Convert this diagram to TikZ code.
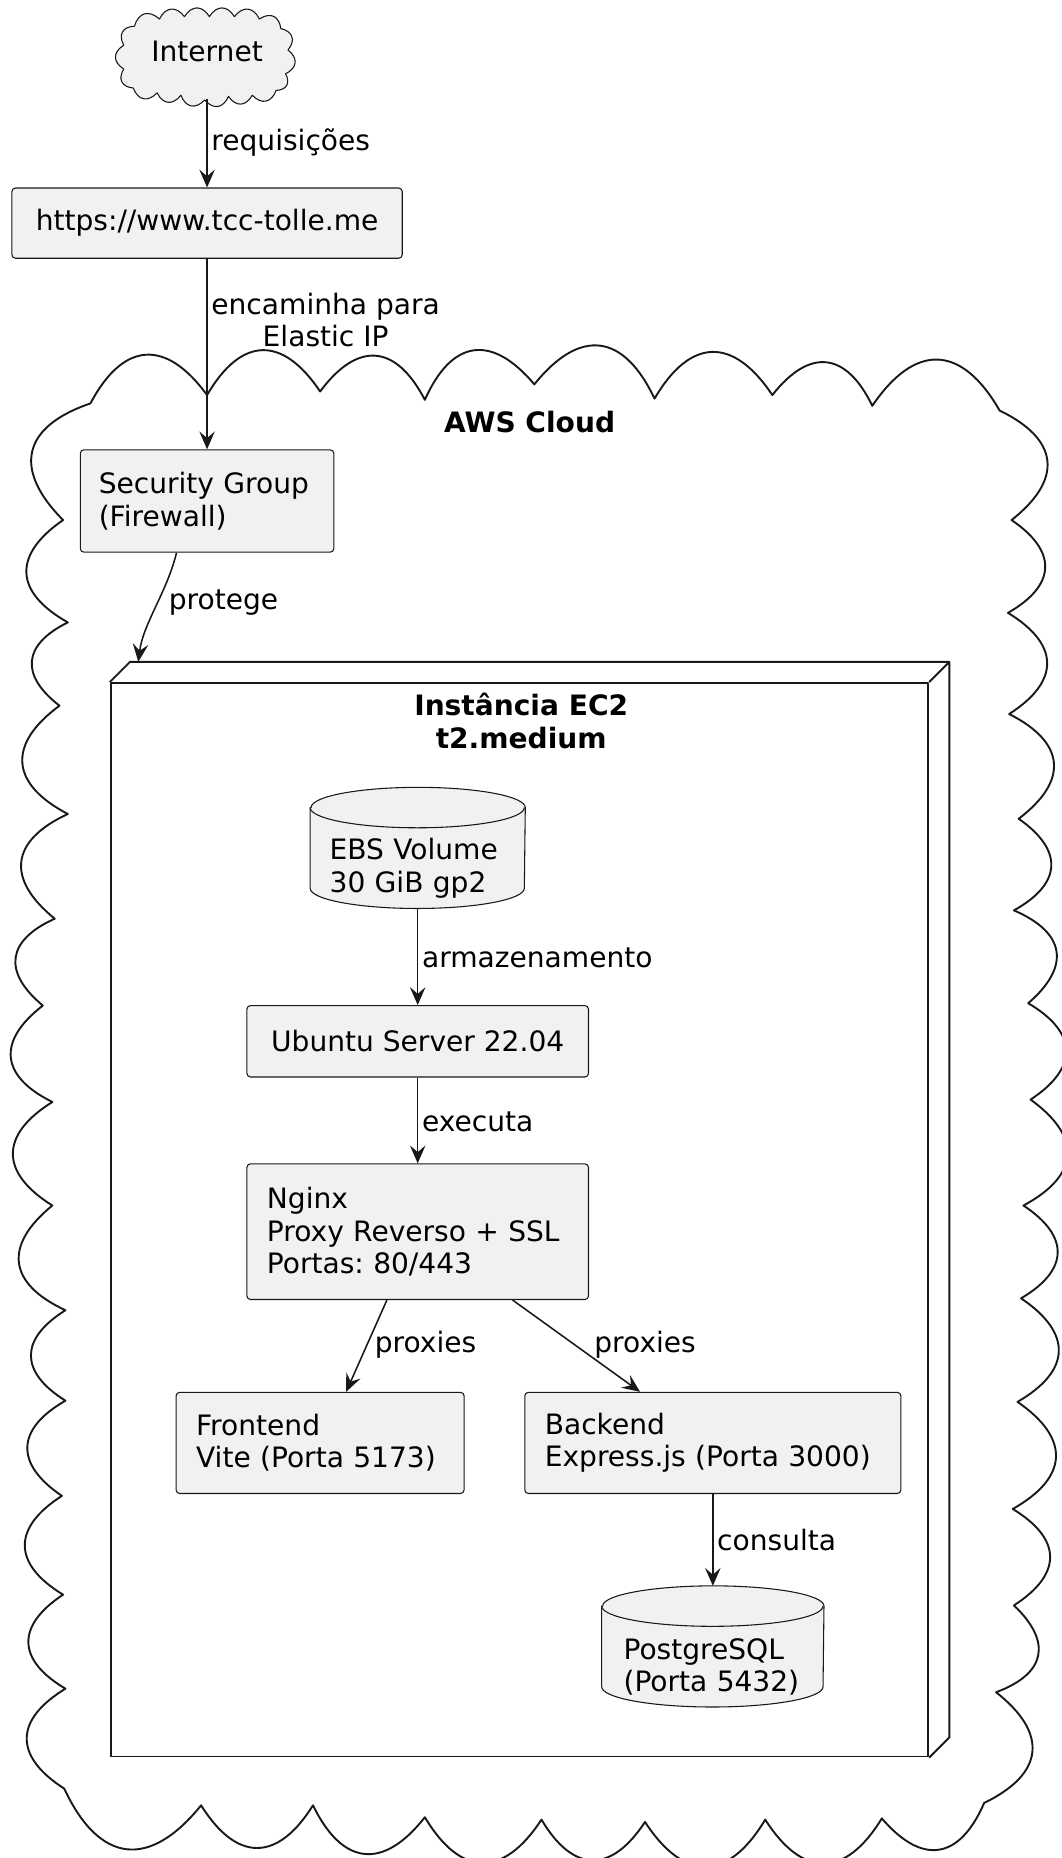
\documentclass[tikz,border=0pt]{standalone}
\usepackage{fontspec}
\setmainfont{DejaVu Sans}
\frenchspacing
\usetikzlibrary{arrows.meta,calc,backgrounds}
\definecolor{boxfill}{HTML}{F1F1F1}
\definecolor{ink}{HTML}{181818}
\newcommand{\diagfont}{\fontsize{11.8}{13.6}\selectfont}
\tikzset{
  box/.style={draw=ink, line width=0.45pt, fill=boxfill, rounded corners=1.5pt, inner xsep=8.4pt, inner ysep=0pt},
  arr/.style={draw=ink, line width=0.65pt, -{Stealth[length=7.5pt, width=6.5pt, inset=2.8pt]}},
  lbl/.style={inner sep=1.5pt},
  heavy/.style={draw=ink, line width=0.8pt},
  thin/.style={draw=ink, line width=0.45pt},
  title/.style={font=\diagfont\bfseries, align=center},
  bump/.style={to path={.. controls ($(\tikztostart)!#1!58:(\tikztotarget)$) and ($(\tikztotarget)!#1!-58:(\tikztostart)$) .. (\tikztotarget)}},
  bump/.default=0.6
}
\begin{document}
\begin{tikzpicture}[x=0.5pt, y=-0.5pt, font=\diagfont, line join=round]
\useasboundingbox (0,0) rectangle (891.6,1561.3);

% Internet
\draw[thin, fill=boxfill] (113,22) \foreach \x/\y in {134/16, 155/14, 176/14, 197/14, 218/16, 236/24, 242/42, 240/62, 232/76, 212/80, 192/81, 172/84, 152/80, 132/78, 112/74, 104/58, 104/38, 113/22} { to[bump=0.55] (\x,\y) } -- cycle;
\node[minimum width=75pt, minimum height=40pt, inner sep=0pt] (internet) at (174,43) {Internet};
\node[box, minimum width=164pt, minimum height=29.5pt] (site) at (174,187.5) {https://www.tcc-tolle.me};

% AWS Cloud
\draw[heavy] (76,339) \foreach \x/\y in {174/332, 269/329, 357/336, 449/323, 550/335, 649/332, 733/341, 840/345, 850/437, 847/515, 848/600, 856/688, 852/765, 864/843, 866/924, 860/1013, 858/1091, 855/1178, 851/1268, 852/1349, 837/1422, 827/1515, 741/1528, 643/1529, 542/1531, 455/1529, 357/1527, 263/1517, 169/1517, 54/1503, 55/1419, 53/1340, 52/1257, 55/1177, 55/1101, 44/1013, 44/926, 36/845, 46/772, 57/684, 50/593, 57/523, 53/437, 76/339} { to[bump] (\x,\y) };
\node[title] (aws) at (445,354.5) {AWS Cloud};
\node[box, align=left, text width=91pt, inner xsep=7.75pt, minimum height=43pt] (sg) at (174,421) {Security Group\\(Firewall)};

% EC2
\node[heavy, minimum width=343.5pt, minimum height=451pt] (ec2) at (436.5,1025) {};
\draw[heavy] (ec2.north west) -- ++(17,-17) -- ($(ec2.north east)+(17,-17)$) -- ($(ec2.south east)+(17,-17)$) -- (ec2.south east) (ec2.north east) -- ++(17,-17);
\node[title] (ec2name) at (438,605.75) {Instância EC2\\t2.medium};

\node[align=left, text width=74pt, inner xsep=8pt, inner ysep=0pt, minimum height=33.5pt] (ebs) at (351,729.5) {EBS Volume\\30 GiB gp2};
\node[box, minimum width=143.5pt, minimum height=30pt] (ubuntu) at (351,875) {Ubuntu Server 22.04};
\node[box, align=left, text width=126.7pt, minimum height=57pt] (nginx) at (351,1035) {Nginx\\Proxy Reverso + SSL\\Portas: 80/443};
\node[box, align=left, text width=104.2pt, minimum height=42.5pt] (front) at (269,1212.5) {Frontend\\Vite (Porta 5173)};
\node[box, align=left, text width=141.2pt, minimum height=42.5pt] (back) at (599,1212.5) {Backend\\Express.js (Porta 3000)};
\node[align=left, text width=75pt, inner xsep=9pt, inner ysep=0pt, minimum height=33.5pt] (pg) at (599,1400.5) {PostgreSQL\\(Porta 5432)};

% cylinders
\begin{scope}[on background layer]
  \path[thin, fill=boxfill] ($(ebs.north west)+(0,-17)$) -- ($(ebs.south west)+(0,-17)$) arc[start angle=180, end angle=360, x radius=45pt, y radius=8.5pt] -- ($(ebs.north east)+(0,-17)$) arc[start angle=0, end angle=180, x radius=45pt, y radius=8.5pt] -- cycle;
  \draw[thin] ($(ebs.north west)+(0,-17)$) arc[start angle=180, end angle=360, x radius=45pt, y radius=8.5pt];
  \path[thin, fill=boxfill] ($(pg.north west)+(0,-17)$) -- ($(pg.south west)+(0,-17)$) arc[start angle=180, end angle=360, x radius=46.5pt, y radius=8.5pt] -- ($(pg.north east)+(0,-17)$) arc[start angle=0, end angle=180, x radius=46.5pt, y radius=8.5pt] -- cycle;
  \draw[thin] ($(pg.north west)+(0,-17)$) arc[start angle=180, end angle=360, x radius=46.5pt, y radius=8.5pt];
\end{scope}

% connectors
\coordinate (sgout) at ($(sg.south west)!0.38!(sg.south east)$);
\coordinate (ec2in) at ($(ec2.north west)+(24,-17)$);
\coordinate (pgtop) at ($(pg.north)+(0,-34)$);
\draw[arr] (internet.south) -- node[lbl, right, pos=0.49] {requisições} (site.north);
\draw[arr] (site.south) -- node[lbl, right, pos=0.32, align=center] {encaminha para\\Elastic IP} (sg.north);
\draw[arr] (sgout) .. controls +(-8,33) and +(4,-32) .. node[lbl, right=2.75pt, pos=0.45] {protege} (ec2in);
\draw[arr] (ebs.south) -- node[lbl, right, pos=0.51] {armazenamento} (ubuntu.north);
\draw[arr] (ubuntu.south) -- node[lbl, right, pos=0.52] {executa} (nginx.north);
\draw[arr] ($(nginx.south west)!0.41!(nginx.south east)$) -- node[lbl, right=1.5pt, pos=0.49] {proxies} ($(front.north west)!0.59!(front.north east)$);
\draw[arr] ($(nginx.south west)!0.777!(nginx.south east)$) -- node[lbl, right=6.3pt, pos=0.49] {proxies} ($(back.north west)!0.307!(back.north east)$);
\draw[arr] (back.south) -- node[lbl, right, pos=0.5] {consulta} (pgtop);
\end{tikzpicture}
\end{document}
